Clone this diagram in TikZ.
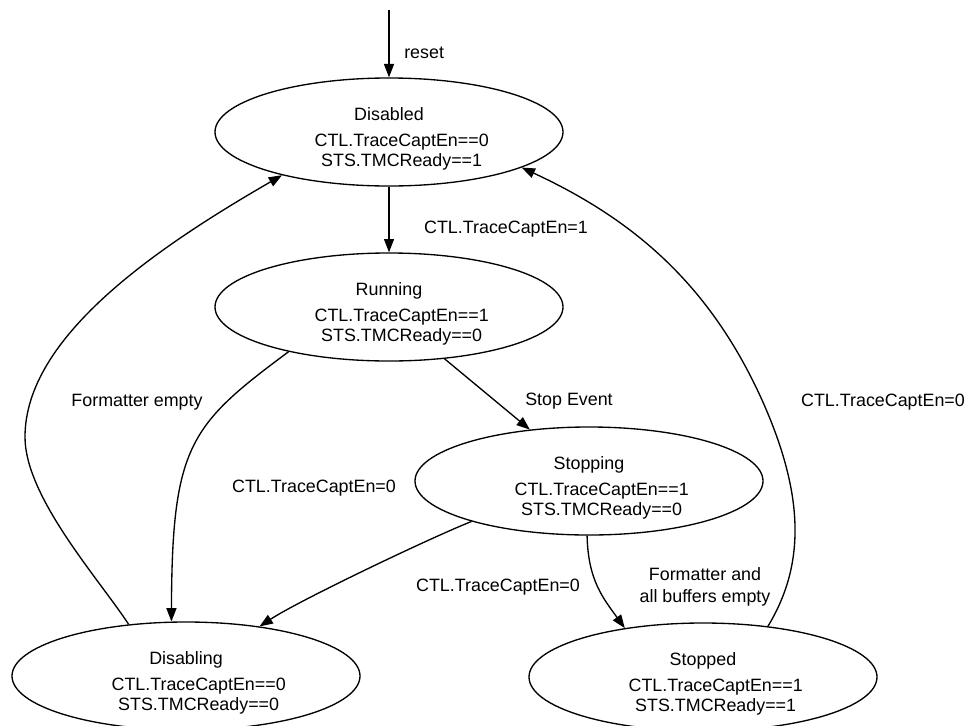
\documentclass[tikz,border=0pt]{standalone}
\usepackage{fontspec}
\setmainfont{Liberation Sans}
\usetikzlibrary{arrows.meta, shapes.geometric}
\tikzstyle{state_node} = [
    ellipse,
    draw=black,
    line width=1pt,
    align=center,
    inner sep=0pt,
    minimum width=261pt, % about 348px wide
    minimum height=75pt,
    font=\fontsize{13.4pt}{15pt}\selectfont
]
\tikzstyle{edge_label} = [
    align=center,
    inner sep=0pt,
    font=\fontsize{13.4pt}{16.5pt}\selectfont
]
\tikzstyle{trans} = [
    draw=black,
    line width=1pt,
    -{Triangle[length=10pt, width=7.5pt]}
]
% first line a bit lower, the two conditions a bit to the right
\newcommand{\statetext}[3]{\rule{0pt}{20pt}#1\\[4.5pt]\hspace*{19pt}#2\\\hspace*{19pt}#3}

\begin{document}
\begin{tikzpicture}[x=0.75pt, y=-0.75pt]
\useasboundingbox (0,0) rectangle (973,725);
% states
\node [state_node] (disabled)  at (389,132) {\statetext{Disabled}{CTL.TraceCaptEn==0}{STS.TMCReady==1}};
\node [state_node] (running)   at (389,307) {\statetext{Running}{CTL.TraceCaptEn==1}{STS.TMCReady==0}};
\node [state_node] (stopping)  at (589,481) {\statetext{Stopping}{CTL.TraceCaptEn==1}{STS.TMCReady==0}};
\node [state_node] (disabling) at (186,676) {\statetext{Disabling}{CTL.TraceCaptEn==0}{STS.TMCReady==0}};
\node [state_node] (stopped)   at (703,677) {\statetext{Stopped}{CTL.TraceCaptEn==1}{STS.TMCReady==1}};
\coordinate (start) at (389,10);

% transitions
\draw [trans] (start) -- (disabled);
\draw [trans] (disabled) -- (running);
\draw [trans] (running.-43) -- (stopping.139);
\draw [trans] (running.-156) .. controls (190,425) and (172,445) .. (disabling.105);
\draw [trans] (stopping.-161) .. controls (430,538) and (300,600) .. (disabling.34);
\draw [trans] (stopping.-92) .. controls (588,580) and (603,598) .. (stopped.148);
\draw [trans] (stopped.38) .. controls (805,565) and (805,496) .. (762,400)
    .. controls (707,278) and (626,216) .. (disabled.-15);
\draw [trans] (disabling.138) .. controls (99,579) and (25,497) .. (25,437)
    .. controls (25,337) and (156,248) .. (disabled.202);

% labels
\node [edge_label, anchor=west] (reset_lbl) at (404,53) {reset};
\node [edge_label] (en1_lbl)   at (506,229) {CTL.TraceCaptEn=1};
\node [edge_label] (stop_lbl)  at (569,401) {Stop Event};
\node [edge_label] (fmt_lbl)   at (137,402) {Formatter empty};
\node [edge_label] (en0_right) at (883,402) {CTL.TraceCaptEn=0};
\node [edge_label] (en0_mid)   at (314,488) {CTL.TraceCaptEn=0};
\node [edge_label] (en0_low)   at (498,587) {CTL.TraceCaptEn=0};
\node [edge_label] (buf_lbl)   at (705,587) {Formatter and\\all buffers empty};
\end{tikzpicture}
\end{document}
